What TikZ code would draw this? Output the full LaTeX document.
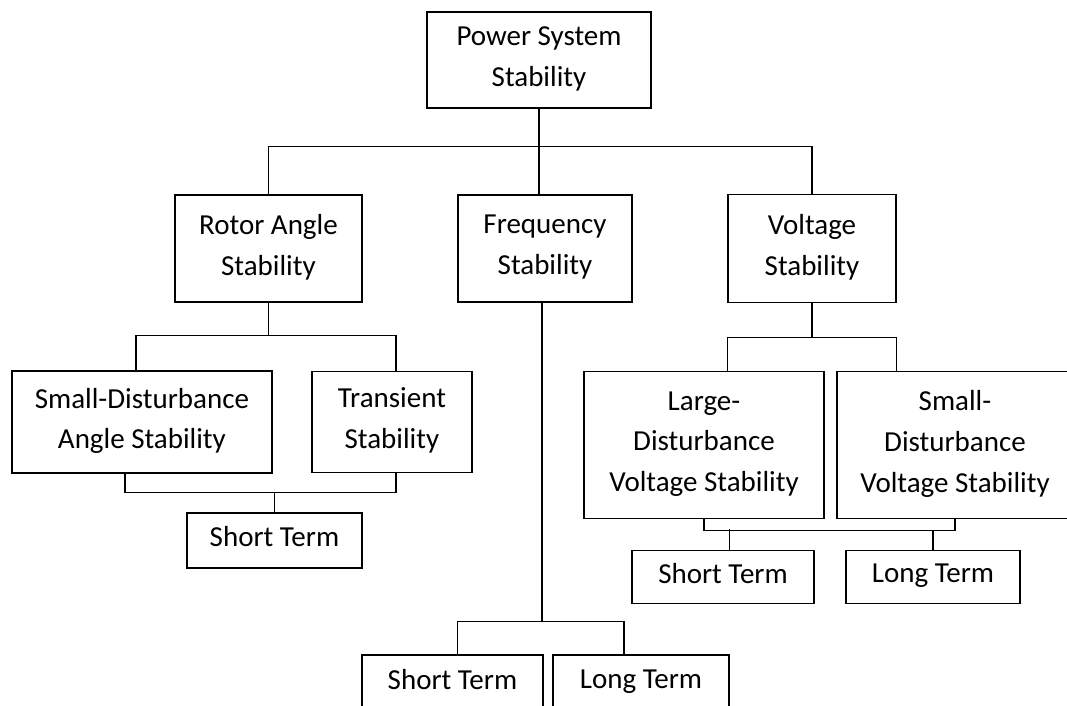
\documentclass[tikz,border=0pt]{standalone}
\usepackage{fontspec}
\setmainfont{Carlito}
\usetikzlibrary{positioning}
\tikzstyle{block} = [rectangle, draw=black, line width=1pt, text centered, align=center, inner sep=0pt, text depth=5.5pt]
\tikzstyle{link} = [line width=1pt]

\begin{document}
\begin{tikzpicture}[font=\fontsize{21.75}{30.5}\selectfont]
    \useasboundingbox (-404.25pt,45pt) rectangle (396pt,-484.5pt);
    \node (pss) [block, minimum width=168pt, minimum height=72pt] {Power System\\Stability};
    \node (freq) [block, node distance=141.4pt, below of=pss, xshift=4.5pt, minimum width=130.5pt, minimum height=80.25pt] {Frequency\\Stability};
    \node (rotor) [block, node distance=207.4pt, left of=freq, minimum width=140.25pt, minimum height=80.25pt] {Rotor Angle\\Stability};
    \node (volt) [block, node distance=200.25pt, right of=freq, minimum width=126pt, minimum height=81pt] {Voltage\\Stability};
    \node (sda) [block, node distance=130.1pt, below of=rotor, xshift=-94.9pt, minimum width=195pt, minimum height=76.5pt] {Small-Disturbance\\Angle Stability};
    \node (trans) [block, node distance=187.5pt, right of=sda, minimum width=120pt, minimum height=75.75pt] {Transient\\Stability};
    \node (stl) [block, node distance=219pt, below of=rotor, xshift=4.5pt, minimum width=131.25pt, minimum height=41.25pt] {Short Term};
    \node (ldv) [block, node distance=147.4pt, below of=volt, xshift=-81pt, minimum width=180pt, minimum height=110.25pt] {Large-\\Disturbance\\Voltage Stability};
    \node (sdv) [block, node distance=188.25pt, right of=ldv, minimum width=177pt, minimum height=110.25pt] {Small-\\Disturbance\\Voltage Stability};
    \node (stv) [block, node distance=99pt, below of=ldv, xshift=14.25pt, minimum width=136.5pt, minimum height=39.75pt] {Short Term};
    \node (ltv) [block, node distance=157.5pt, right of=stv, minimum width=130.5pt, minimum height=39.75pt] {Long Term};
    \node (stf) [block, node distance=325.9pt, below of=freq, xshift=-69.4pt, minimum width=135.75pt, minimum height=42pt] {Short Term};
    \node (ltf) [block, node distance=141.4pt, right of=stf, minimum width=132pt, minimum height=42pt] {Long Term};

    \coordinate (bus) at ([yshift=-28.5pt]pss.south);
    \draw [link] (pss.south) -- (pss.south |- freq.north);
    \draw [link] (rotor.north) |- (bus) -| (volt.north);

    \coordinate (rbus) at ([yshift=-24.75pt]rotor.south);
    \draw [link] (rotor.south) -- (rbus);
    \draw [link] ([xshift=-4.5pt]sda.north) |- (rbus) -| ([xshift=3pt]trans.north);
    \coordinate (abus) at ([yshift=-14.25pt]sda.south);
    \draw [link] ([xshift=-12.75pt]sda.south) |- (abus -| trans.south) -| ([xshift=3pt]trans.south);
    \draw [link] (stl.north) -- (stl.north |- abus);

    \draw [link] ([xshift=-2.25pt]freq.south) -- ++(0,-239.25pt) coordinate (fbus);
    \draw [link] ([xshift=4pt]stf.north) |- (fbus) -| ([xshift=-12.75pt]ltf.north);

    \coordinate (vbus) at ([yshift=-25.5pt]volt.south);
    \draw [link] (volt.south) -- (vbus);
    \draw [link] (ldv.north -| volt.west) |- (vbus) -| (sdv.north -| volt.east);
    \coordinate (lbus) at ([yshift=-8.25pt]ldv.south);
    \draw [link] (ldv.south) |- (lbus -| sdv.south) -- (sdv.south);
    \draw [link] ([xshift=5pt]stv.north) -- ++(0,15.75pt);
    \draw [link] (ltv.north) -- (ltv.north |- lbus);
\end{tikzpicture}
\end{document}
